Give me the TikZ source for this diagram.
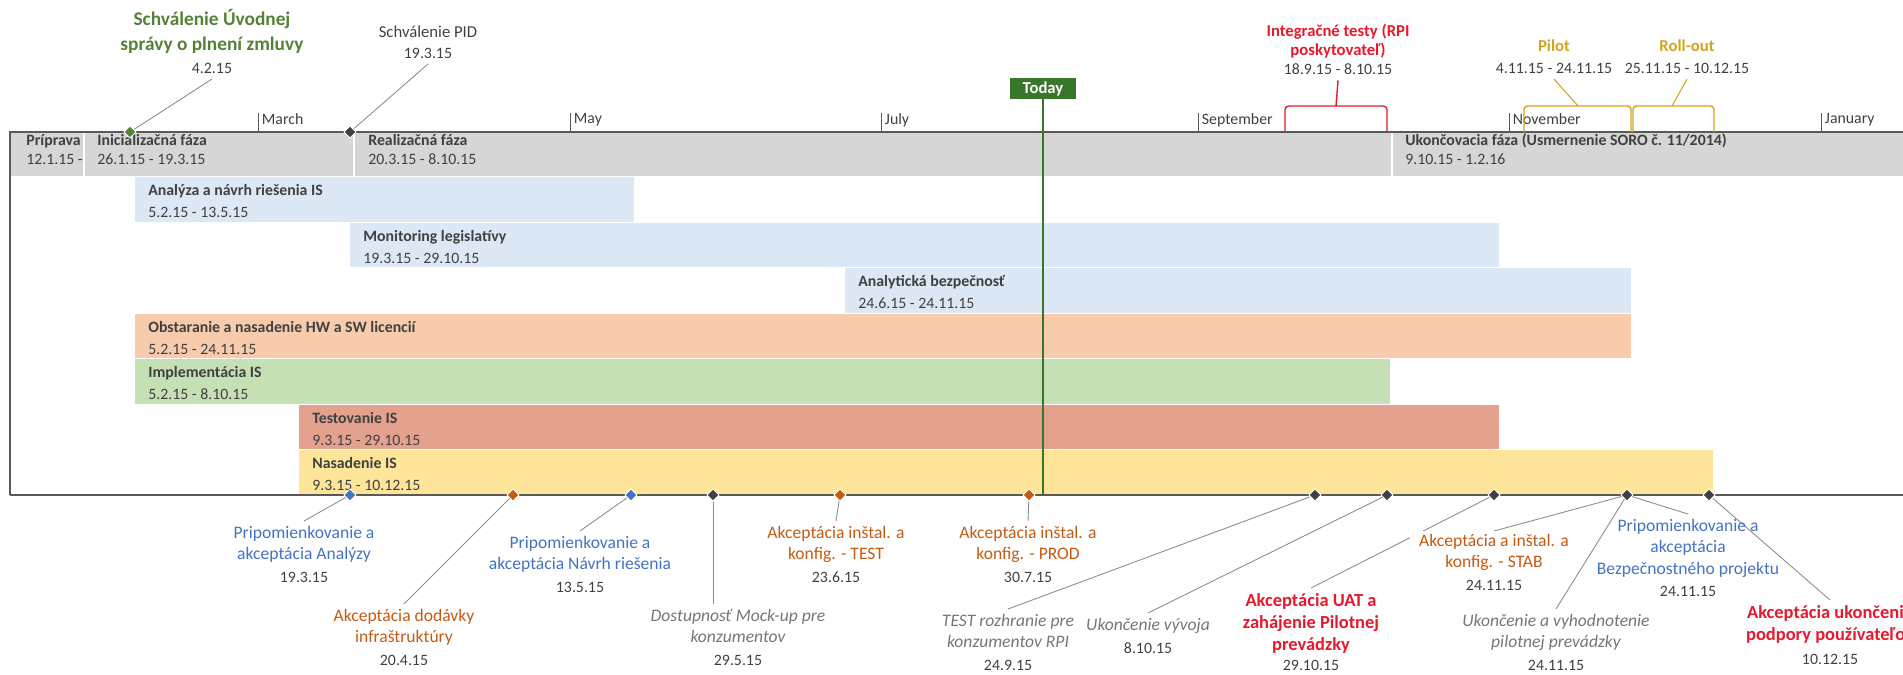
\documentclass[tikz,border=0pt]{standalone}
\usepackage{fontspec}
\setmainfont{Carlito}
\usetikzlibrary{shapes.geometric}
\pgfdeclarelayer{back}
\pgfdeclarelayer{mid}
\pgfsetlayers{back,mid,main}

\definecolor{axisgray}{RGB}{89,89,89}
\definecolor{phasegray}{RGB}{214,214,214}
\definecolor{barblue}{RGB}{221,232,246}
\definecolor{barpeach}{RGB}{248,203,173}
\definecolor{bargreen}{RGB}{197,224,180}
\definecolor{barred}{RGB}{227,161,142}
\definecolor{baryellow}{RGB}{255,229,153}
\definecolor{txtdark}{RGB}{64,64,64}
\definecolor{msblue}{RGB}{68,114,196}
\definecolor{msorange}{RGB}{197,90,17}
\definecolor{msgray}{RGB}{118,118,118}
\definecolor{msred}{RGB}{230,25,45}
\definecolor{msgreen}{RGB}{84,130,53}
\definecolor{msgold}{RGB}{212,163,30}
\definecolor{msdark}{RGB}{64,64,64}
\definecolor{todaygreen}{RGB}{56,118,42}
\definecolor{linkgray}{RGB}{140,140,140}

\newcommand{\msdate}[1]{{\fontsize{9}{11}\selectfont\mdseries\upshape\color{txtdark}#1}}

\tikzset{
  axisline/.style={draw=axisgray, line width=0.9pt},
  monthtick/.style={draw=axisgray, line width=0.5pt},
  month/.style={anchor=north west, inner xsep=2pt, inner ysep=0pt, text=txtdark, font=\fontsize{9}{10}\selectfont},
  phase/.style={anchor=base west, inner sep=0pt, text=txtdark, font=\fontsize{9}{10}\selectfont\bfseries},
  phasedate/.style={anchor=base west, inner sep=0pt, text=txtdark, font=\fontsize{9}{10}\selectfont},
  mstone/.style={diamond, fill=#1, draw=white, line width=0.5pt, inner sep=0pt, minimum size=0.25cm},
  link/.style={draw=linkgray, line width=0.5pt},
  span/.style={draw=#1, line width=0.8pt, rounded corners=2pt},
  msnote/.style={align=center, anchor=north, inner sep=3pt},
  bluenote/.style={msnote, text=msblue, font=\fontsize{10}{12}\selectfont},
  orangenote/.style={msnote, text=msorange, font=\fontsize{10}{12}\selectfont},
  graynote/.style={msnote, text=msgray, font=\fontsize{10}{12}\selectfont\itshape},
  rednote/.style={msnote, text=msred, font=\fontsize{10.5}{12.5}\selectfont\bfseries},
  topnote/.style={msnote, text=txtdark, font=\fontsize{9.5}{12}\selectfont},
}

\begin{document}
\begin{tikzpicture}[x=0.02cm, y=-0.02cm]
  \useasboundingbox (0,0) rectangle (1903,674);
  \clip (0,0) rectangle (1903,674);

  \begin{pgfonlayer}{back}
    \fill[phasegray] (10,132) rectangle (1903,176);
    \draw[white, line width=1pt] (84,132) -- (84,176) (354,132) -- (354,176) (1392,132) -- (1392,176);
    \fill[barblue] (135,177) rectangle (634,222);
    \fill[barblue] (350,223) rectangle (1499,267);
    \fill[barblue] (845,268) rectangle (1631,313);
    \fill[barpeach] (135,314) rectangle (1631,358);
    \fill[bargreen] (135,359) rectangle (1390,404);
    \fill[barred] (299,405) rectangle (1499,449);
    \fill[baryellow] (299,450) rectangle (1713,495);
  \end{pgfonlayer}

  \draw[axisline] (10,495) -- (10,132) -- (1903,132);
  \draw[axisline] (10,495) -- (1903,495);

  \draw[monthtick] (258,132) -- (258,113) node[month] (mar) {March};
  \draw[monthtick] (570,132) -- (570,113) node[month] (may) {May};
  \draw[monthtick] (881,132) -- (881,113) node[month] (jul) {July};
  \draw[monthtick] (1198,132) -- (1198,113) node[month] (sep) {September};
  \draw[monthtick] (1509,132) -- (1509,113) node[month] (nov) {November};
  \draw[monthtick] (1821,132) -- (1821,113) node[month] (jan) {January};

  \node[phase] (p0) at (26,145) {Príprava};
  \node[phasedate] (p0d) at (26,164) {12.1.15 -};
  \node[phase] (p1) at (97,145) {Inicializačná fáza};
  \node[phasedate] (p1d) at (97,164) {26.1.15 - 19.3.15};
  \node[phase] (p2) at (368,145) {Realizačná fáza};
  \node[phasedate] (p2d) at (368,164) {20.3.15 - 8.10.15};
  \node[phase] (p3) at (1405,145) {Ukončovacia fáza (Usmernenie SORO č. 11/2014)};
  \node[phasedate] (p3d) at (1405,164) {9.10.15 - 1.2.16};

  \node[phase] (b1) at (148,195) {Analýza a návrh riešenia IS};
  \node[phasedate] (b1d) at (148,217) {5.2.15 - 13.5.15};
  \node[phase] (b2) at (363,241) {Monitoring legislatívy};
  \node[phasedate] (b2d) at (363,263) {19.3.15 - 29.10.15};
  \node[phase] (b3) at (858,286) {Analytická bezpečnosť};
  \node[phasedate] (b3d) at (858,308) {24.6.15 - 24.11.15};
  \node[phase] (b4) at (148,332) {Obstaranie a nasadenie HW a SW licencií};
  \node[phasedate] (b4d) at (148,354) {5.2.15 - 24.11.15};
  \node[phase] (b5) at (148,377) {Implementácia IS};
  \node[phasedate] (b5d) at (148,399) {5.2.15 - 8.10.15};
  \node[phase] (b6) at (312,423) {Testovanie IS};
  \node[phasedate] (b6d) at (312,445) {9.3.15 - 29.10.15};
  \node[phase] (b7) at (312,468) {Nasadenie IS};
  \node[phasedate] (b7d) at (312,490) {9.3.15 - 10.12.15};

  \node[fill=todaygreen, text=white, font=\fontsize{9.5}{10}\selectfont\bfseries, minimum width=1.32cm, minimum height=0.42cm, inner sep=0pt] (today) at (1043,88.5) {Today};
  \coordinate (todayend) at (1043,495);

  \draw[span=msred] (1285,132) -- (1285,106) -- (1387,106) -- (1387,132);
  \draw[span=msgold] (1524,132) -- (1524,106) -- (1631,106) -- (1631,132);
  \draw[span=msgold] (1633,132) -- (1633,106) -- (1714,106) -- (1714,132);
  \coordinate (itmid) at (1336,106);
  \coordinate (pilotmid) at (1578,106);
  \coordinate (rollmid) at (1672,106);

  \node[mstone=msgreen] (g1) at (130,132) {};
  \node[mstone=msdark] (g2) at (350,132) {};

  \node[msnote, text=msgreen, font=\fontsize{11}{14}\selectfont\bfseries] (t1) at (212,4) {Schválenie Úvodnej\\správy o plnení zmluvy\\[-1pt]\msdate{4.2.15}};
  \node[topnote] (t2) at (428,20) {Schválenie PID\\\msdate{19.3.15}};
  \node[msnote, text=msred, font=\fontsize{9.5}{11}\selectfont\bfseries] (t3) at (1338,18) {Integračné testy (RPI\\poskytovateľ)\\\msdate{18.9.15 - 8.10.15}};
  \node[msnote, text=msgold, font=\fontsize{9.5}{12.5}\selectfont\bfseries] (t4) at (1554,34) {Pilot\\\msdate{4.11.15 - 24.11.15}};
  \node[msnote, text=msgold, font=\fontsize{9.5}{12.5}\selectfont\bfseries] (t5) at (1687,34) {Roll-out\\\msdate{25.11.15 - 10.12.15}};

  \node[mstone=msblue] (m1) at (350,495) {};
  \node[mstone=msorange] (m2) at (513,495) {};
  \node[mstone=msblue] (m3) at (631,495) {};
  \node[mstone=msdark] (m4) at (713,495) {};
  \node[mstone=msorange] (m5) at (840,495) {};
  \node[mstone=msorange] (m6) at (1029,495) {};
  \node[mstone=msdark] (m7) at (1315,495) {};
  \node[mstone=msdark] (m8) at (1387,495) {};
  \node[mstone=msdark] (m9) at (1494,495) {};
  \node[mstone=msdark] (m10) at (1627,495) {};
  \node[mstone=msdark] (m11) at (1709,495) {};

  \node[bluenote] (l1) at (304,521) {Pripomienkovanie a\\akceptácia Analýzy\\[1pt]\msdate{19.3.15}};
  \node[orangenote] (l2) at (404,604) {Akceptácia dodávky\\infraštruktúry\\[1pt]\msdate{20.4.15}};
  \node[bluenote] (l3) at (580,531) {Pripomienkovanie a\\akceptácia Návrh riešenia\\[1pt]\msdate{13.5.15}};
  \node[graynote] (l4) at (738,604) {Dostupnosť Mock-up pre\\konzumentov\\[1pt]\msdate{29.5.15}};
  \node[orangenote] (l5) at (836,521) {Akceptácia inštal. a\\konfig. - TEST\\[1pt]\msdate{23.6.15}};
  \node[orangenote] (l6) at (1028,521) {Akceptácia inštal. a\\konfig. - PROD\\[1pt]\msdate{30.7.15}};
  \node[graynote] (l7) at (1008,609) {TEST rozhranie pre\\konzumentov RPI\\[1pt]\msdate{24.9.15}};
  \node[graynote] (l8) at (1148,613) {Ukončenie vývoja\\[1pt]\msdate{8.10.15}};
  \node[rednote] (l9) at (1311,588) {Akceptácia UAT a\\zahájenie Pilotnej\\prevádzky\\[-1pt]\msdate{29.10.15}};
  \node[orangenote, fill=white, inner xsep=5pt, inner ysep=1.5pt] (l10) at (1494,531) {Akceptácia a inštal. a};
  \node[orangenote, inner ysep=1.5pt] (l10d) at (l10.south) {konfig. - STAB\\[1pt]\msdate{24.11.15}};
  \node[graynote] (l11) at (1556,609) {Ukončenie a vyhodnotenie\\pilotnej prevádzky\\[1pt]\msdate{24.11.15}};
  \node[bluenote] (l12) at (1688,514) {Pripomienkovanie a\\akceptácia\\Bezpečnostného projektu\\[1pt]\msdate{24.11.15}};
  \node[rednote] (l13) at (1830,600) {Akceptácia ukončenia\\podpory používateľov\\[1pt]\msdate{10.12.15}};

  \begin{pgfonlayer}{mid}
    \draw[draw=todaygreen, line width=0.8pt] (today.south) -- (todayend);
    \draw[link] (g1) -- (t1.south);
    \draw[link] (g2) -- (t2.south);
    \draw[msred, line width=0.8pt] (itmid) -- (t3.south);
    \draw[draw=msgold, line width=0.6pt] (pilotmid) -- (t4.south);
    \draw[draw=msgold, line width=0.6pt] (rollmid) -- (t5.south);
    \draw[link] (m1) -- (l1.north);
    \draw[link] (m2) -- (l2.north);
    \draw[link] (m3) -- (l3.north);
    \draw[link] (m4) -- (m4 |- l4.north);
    \draw[link] (m5) -- (l5.north);
    \draw[link] (m6) -- (l6.north);
    \draw[link] (m7) -- (l7.north);
    \draw[link] (m8) -- (l8.north);
    \draw[link] (m9) -- (l9.north);
    \draw[link] (m10) -- (l10.north);
    \draw[link] (m10) -- (l11.north);
    \draw[link] (m10) -- (l12.north);
    \draw[link] (m11) -- (l13.north);
  \end{pgfonlayer}
\end{tikzpicture}
\end{document}
